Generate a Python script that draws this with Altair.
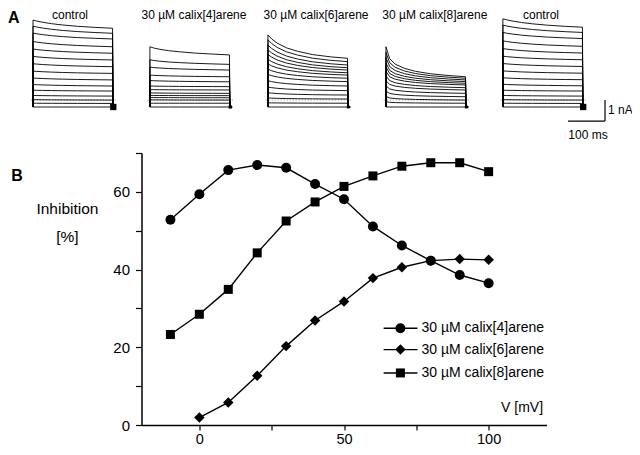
import altair as alt
import pandas as pd

FONT = "Arial, Liberation Sans, Helvetica, sans-serif"

# ---------------- Panel B data ----------------
V = [-10, 0, 10, 20, 30, 40, 50, 60, 70, 80, 90, 100]
calix4 = [52.8, 59.4, 65.6, 66.9, 66.2, 62.0, 58.1, 51.1, 46.2, 42.3, 38.6, 36.5]
calix6 = [None, 1.9, 5.8, 12.7, 20.3, 26.9, 31.8, 37.8, 40.6, 42.3, 42.7, 42.5]
calix8 = [23.3, 28.5, 34.9, 44.3, 52.5, 57.4, 61.4, 64.1, 66.6, 67.5, 67.5, 65.2]
series_names = ["30 µM calix[4]arene", "30 µM calix[6]arene", "30 µM calix[8]arene"]
shapes = ["circle", "diamond", "square"]
marker_sizes = [100, 110, 81]

# legend placement in data units of panel B
leg_y = [24.9, 19.4, 13.4]
leg_x0, leg_x1, leg_xm, leg_xt = 63.7, 75.4, 69.5, 76.8

# ---------------- Panel A data ----------------
panel_titles = ["control", "30 µM calix[4]arene", "30 µM calix[6]arene",
                "30 µM calix[8]arene", "control"]
title_t = [100, 435, 765, 1086, 1373]           # ms position of each title
panel_offset = [0, 316, 635, 954, 1270]          # ms position of each sweep set
prof_t = [0, 10, 25, 50, 80, 120, 170, 215]      # ms within sweep
profiles = [
    [1, 0.88, 0.74, 0.56, 0.40, 0.24, 0.10, 0],
    [1, 0.85, 0.70, 0.52, 0.38, 0.23, 0.10, 0],
    [1, 0.83, 0.65, 0.45, 0.30, 0.16, 0.06, 0],
    [1, 0.60, 0.42, 0.28, 0.18, 0.10, 0.04, 0],
    [1, 0.88, 0.74, 0.56, 0.40, 0.24, 0.10, 0],
]
start_nA = [
    [4.14, 3.85, 3.52, 3.12, 2.76, 2.41, 2.06, 1.71, 1.38, 1.07, 0.80, 0.55, 0.35, 0.18, 0.0],
    [2.87, 2.25, 1.90, 1.52, 1.26, 1.00, 0.83, 0.67, 0.55, 0.45, 0.34, 0.18, 0.0],
    [3.43, 3.20, 2.95, 2.72, 2.50, 2.27, 2.05, 1.80, 1.55, 1.25, 0.95, 0.68, 0.43, 0.20, 0.0],
    [2.87, 2.60, 2.35, 2.10, 1.90, 1.70, 1.48, 1.25, 1.00, 0.75, 0.50, 0.25, 0.0],
    [4.20, 3.90, 3.55, 3.15, 2.78, 2.42, 2.07, 1.72, 1.39, 1.08, 0.80, 0.55, 0.35, 0.18, 0.0],
]
end_nA = [
    [3.75, 3.51, 3.24, 2.87, 2.56, 2.24, 1.92, 1.60, 1.29, 1.00, 0.76, 0.52, 0.33, 0.17, 0.0],
    [2.48, 2.03, 1.76, 1.44, 1.20, 0.97, 0.81, 0.65, 0.54, 0.44, 0.33, 0.18, 0.0],
    [2.32, 2.16, 2.00, 1.87, 1.76, 1.63, 1.52, 1.37, 1.21, 1.00, 0.78, 0.57, 0.38, 0.18, 0.0],
    [1.44, 1.37, 1.29, 1.21, 1.13, 1.05, 0.92, 0.81, 0.65, 0.49, 0.33, 0.18, 0.0],
    [3.80, 3.55, 3.26, 2.89, 2.57, 2.25, 1.93, 1.61, 1.30, 1.01, 0.76, 0.52, 0.33, 0.17, 0.0],
]
sweep_end = 216
tail_size = [40, 10, 8, 8, 40]

# ---------------- build tables ----------------
rowsB = []
for name, vals in zip(series_names, [calix4, calix6, calix8]):
    for v, y in zip(V, vals):
        if y is not None:
            rowsB.append(dict(series=name, V=v, inh=y))
dfB = pd.DataFrame(rowsB)
dfB["sz"] = dfB["series"].map(dict(zip(series_names, marker_sizes)))

dfLeg = pd.DataFrame(dict(series=series_names, y=leg_y, x0=leg_x0, x1=leg_x1,
                          xm=leg_xm, xt=leg_xt, sz=marker_sizes))

rowsA = []
for p in range(5):
    off = panel_offset[p]
    for j, (s, e) in enumerate(zip(start_nA[p], end_nA[p])):
        tid = f"{p}-{j}"
        pts = [(0, 0.0)]
        for t, f in zip(prof_t, profiles[p]):
            pts.append((t, e + (s - e) * f))
        pts.append((sweep_end, 0.0))
        pts.append((sweep_end + 6, 0.0))
        for k, (t, i) in enumerate(pts):
            rowsA.append(dict(tid=tid, t=off + t, I=i, o=k))
dfA = pd.DataFrame(rowsA)

dfTail = pd.DataFrame(dict(t=[o + sweep_end + 1 for o in panel_offset], I=[0.0] * 5, sz=tail_size))
dfDot = pd.DataFrame(dict(t0=[o - 6 for o in panel_offset], t1=[o + 228 for o in panel_offset], I=[0.33] * 5))
dfTitles = pd.DataFrame(dict(t=title_t, I=[4.40] * 5, label=panel_titles))

# ---------------- scales ----------------
xsB = alt.Scale(domain=[-20, 120], nice=False, zero=False)
ysB = alt.Scale(domain=[0, 70], nice=False, zero=False)
xsA = alt.Scale(domain=[0, 1000], range=[33 - 141.5, 33 - 141.5 + 370], nice=False, zero=False)
ysA = alt.Scale(domain=[0, 1], range=[-46, -67], nice=False, zero=False)


def XB(f):
    return alt.X(f, scale=xsB, axis=None)


def YB(f):
    return alt.Y(f, scale=ysB, axis=None)


def XA(f):
    return alt.X(f, scale=xsA, axis=None)


def YA(f):
    return alt.Y(f, scale=ysA, axis=None)


axX = alt.Axis(values=[0, 25, 50, 75, 100], labelExpr="datum.value % 50 == 0 ? datum.label : ''",
               title=None, grid=False, tickSize=5, labelPadding=2, labelFontSize=14.5,
               labelFont=FONT, labelColor="black", domainColor="black", tickColor="black",
               domainWidth=1.5, tickWidth=1.2, labelFlush=False, labelOverlap=False)
axY = alt.Axis(values=[0, 10, 20, 30, 40, 50, 60, 70], labelExpr="datum.value % 20 == 0 ? datum.label : ''",
               title=None, grid=False, tickSize=6, labelPadding=6, labelFontSize=15,
               labelFont=FONT, labelColor="black", domainColor="black", tickColor="black",
               domainWidth=1.5, tickWidth=1.2, labelFlush=False, labelOverlap=False)

# ---------------- panel B ----------------
linesB = alt.Chart(dfB).mark_line(color="black", strokeWidth=1.4).encode(
    x=alt.X("V:Q", scale=xsB, axis=axX), y=alt.Y("inh:Q", scale=ysB, axis=axY), detail="series:N")
shape_enc = alt.Shape("series:N", scale=alt.Scale(domain=series_names, range=shapes), legend=None)
pointsB = alt.Chart(dfB).mark_point(filled=True, color="black", opacity=1).encode(
    x=XB("V:Q"), y=YB("inh:Q"), shape=shape_enc, size=alt.Size("sz:Q", scale=None))

legLines = alt.Chart(dfLeg).mark_rule(color="black", strokeWidth=1.4).encode(
    x=XB("x0:Q"), x2="x1:Q", y=YB("y:Q"))
legPts = alt.Chart(dfLeg).mark_point(filled=True, color="black", opacity=1).encode(
    x=XB("xm:Q"), y=YB("y:Q"), shape=shape_enc, size=alt.Size("sz:Q", scale=None))
legText = alt.Chart(dfLeg).mark_text(align="left", baseline="middle", fontSize=14, font=FONT,
                                     color="black").encode(x=XB("xt:Q"), y=YB("y:Q"), text="series:N")

dfLabB = pd.DataFrame(dict(x=[-45.6, -45.6], y=[55.6, 48.5], label=["Inhibition", "[%]"]))
labB1 = alt.Chart(dfLabB).mark_text(align="center", baseline="middle", fontSize=15.5,
                                    font=FONT, color="black").encode(x=XB("x:Q"), y=YB("y:Q"), text="label:N")
labB2 = alt.Chart(pd.DataFrame(dict(x=[118.8], y=[4.4], label=["V [mV]"]))).mark_text(
    align="right", baseline="middle", fontSize=14, font=FONT, color="black").encode(
    x=XB("x:Q"), y=YB("y:Q"), text="label:N")
labBletter = alt.Chart(pd.DataFrame(dict(x=[-63.0], y=[64.0], label=["B"]))).mark_text(
    align="center", baseline="middle", fontSize=16, fontWeight="bold", font=FONT, color="black").encode(
    x=XB("x:Q"), y=YB("y:Q"), text="label:N")

# ---------------- panel A ----------------
traces = alt.Chart(dfA).mark_line(color="black", strokeWidth=0.9).encode(
    x=XA("t:Q"), y=YA("I:Q"), detail="tid:N", order="o:Q")
dots = alt.Chart(dfDot).mark_rule(color="#777777", strokeWidth=0.8, strokeDash=[1, 2]).encode(
    x=XA("t0:Q"), x2="t1:Q", y=YA("I:Q"))
tails = alt.Chart(dfTail).mark_square(color="black", opacity=1).encode(
    x=XA("t:Q"), y=YA("I:Q"), size=alt.Size("sz:Q", scale=None))
titles = alt.Chart(dfTitles).mark_text(align="center", baseline="middle", fontSize=12, font=FONT,
                                       color="black").encode(x=XA("t:Q"), y=YA("I:Q"), text="label:N")
bar_v = alt.Chart(pd.DataFrame(dict(t=[1546], a=[-0.67], b=[0.33]))).mark_rule(
    color="black", strokeWidth=1.2).encode(x=XA("t:Q"), y=YA("a:Q"), y2="b:Q")
bar_h = alt.Chart(pd.DataFrame(dict(a=[1446], b=[1546], I=[-0.67]))).mark_rule(
    color="black", strokeWidth=1.2).encode(x=XA("a:Q"), x2="b:Q", y=YA("I:Q"))
bar_t1 = alt.Chart(pd.DataFrame(dict(t=[1554], I=[-0.14], label=["1 nA"]))).mark_text(
    align="left", baseline="middle", fontSize=12, font=FONT, color="black").encode(
    x=XA("t:Q"), y=YA("I:Q"), text="label:N")
bar_t2 = alt.Chart(pd.DataFrame(dict(t=[1500], I=[-1.33], label=["100 ms"]))).mark_text(
    align="center", baseline="middle", fontSize=12, font=FONT, color="black").encode(
    x=XA("t:Q"), y=YA("I:Q"), text="label:N")
letterA = alt.Chart(pd.DataFrame(dict(t=[-52], I=[4.22], label=["A"]))).mark_text(
    align="center", baseline="middle", fontSize=16, fontWeight="bold", font=FONT, color="black").encode(
    x=XA("t:Q"), y=YA("I:Q"), text="label:N")

chart = alt.layer(
    linesB, pointsB, legLines, legPts, legText, labB1, labB2, labBletter,
    dots, traces, tails, titles, bar_v, bar_h, bar_t1, bar_t2, letterA,
).resolve_scale(x="independent", y="independent").properties(
    width=405, height=272,
    padding={"left": 133.5, "top": 145, "right": 85, "bottom": 22},
    autosize="none",
).configure(background="white").configure_view(stroke=None)

chart.save("out.html", embed_options={"renderer": "svg", "actions": False})
